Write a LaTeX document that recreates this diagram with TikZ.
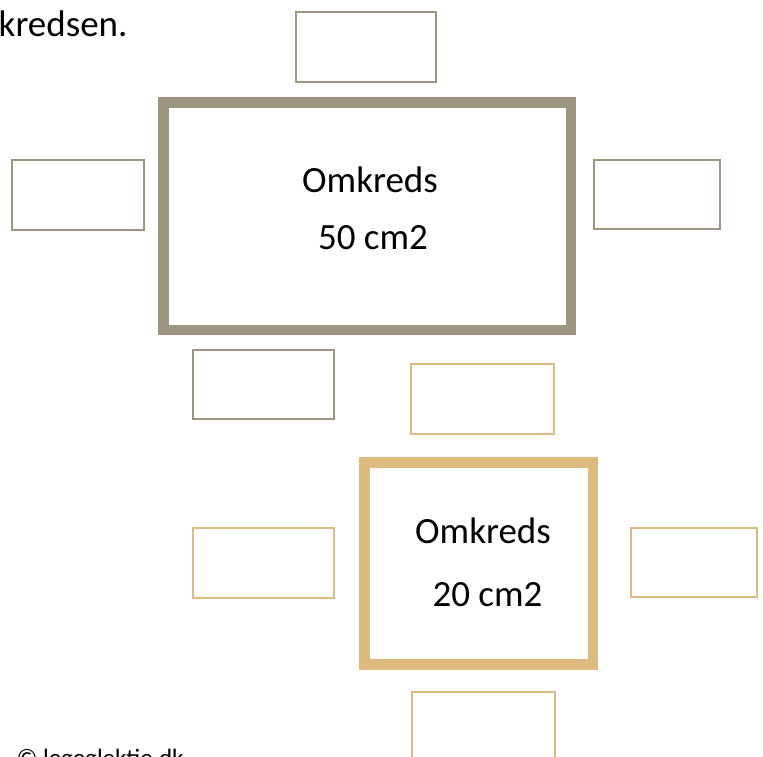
\documentclass[tikz,border=0pt]{standalone}
\usepackage{xcolor}
\usepackage{fontspec}
\usepackage{tikz}
\setmainfont{Carlito}
\definecolor{qqgray}{rgb}{0.616,0.584,0.498}
\definecolor{qqsand}{rgb}{0.867,0.729,0.494}
\tikzstyle{every node}=[font=\fontsize{37}{41}\selectfont]
\tikzstyle{bigframe}=[draw,line width=10.5pt,minimum width=407.5pt,minimum height=227.5pt,inner sep=0pt]
\tikzstyle{answerbox}=[draw,line width=2.3pt,minimum height=70pt,inner sep=0pt]

\begin{document}
\begin{tikzpicture}[line cap=rect,line join=miter,x=1pt,y=-1pt]
                \useasboundingbox (0,0) rectangle (763,757);
                \clip (0,0) rectangle (763,757);
                \node [anchor=base east,font=\fontsize{37}{41}\selectfont] (intro) at (131,37) {kredsen.};
                \node [anchor=base west,font=\fontsize{25}{30}\selectfont] (copy) at (13,766) {\textcopyright\ legeglektie.dk};
                % big rectangle
                \node [bigframe,color=qqgray] (big) at (367.25,216.25) {};
                \node [anchor=base] (bigname) at (370,193) {Omkreds};
                \node [anchor=base] (bigarea) at (373,249) {50 cm2};
                \node [answerbox,color=qqgray,minimum width=140pt] (bigtop) at (366,47) {};
                \node [answerbox,color=qqgray,minimum width=132pt] (bigleft) at (78,195) {};
                \node [answerbox,color=qqgray,minimum width=126pt,minimum height=69pt] (bigright) at (657,194.5) {};
                \node [answerbox,color=qqgray,minimum width=141pt,minimum height=69pt] (bigbottom) at (263.5,384.5) {};
                % small square
                \node [bigframe,color=qqsand,minimum width=228.5pt,minimum height=202pt] (small) at (478.75,563.5) {};
                \node [anchor=base] (smallname) at (483,543) {Omkreds};
                \node [anchor=base] (smallarea) at (487.5,606) {20 cm2};
                \node [answerbox,color=qqsand,minimum width=143pt] (smalltop) at (482.5,399) {};
                \node [answerbox,color=qqsand,minimum width=141pt] (smallleft) at (263.5,563) {};
                \node [answerbox,color=qqsand,minimum width=126pt,minimum height=69pt] (smallright) at (694,562.5) {};
                \node [answerbox,color=qqsand,minimum width=143pt] (smallbottom) at (483.5,727) {};
            \end{tikzpicture}
\end{document}
